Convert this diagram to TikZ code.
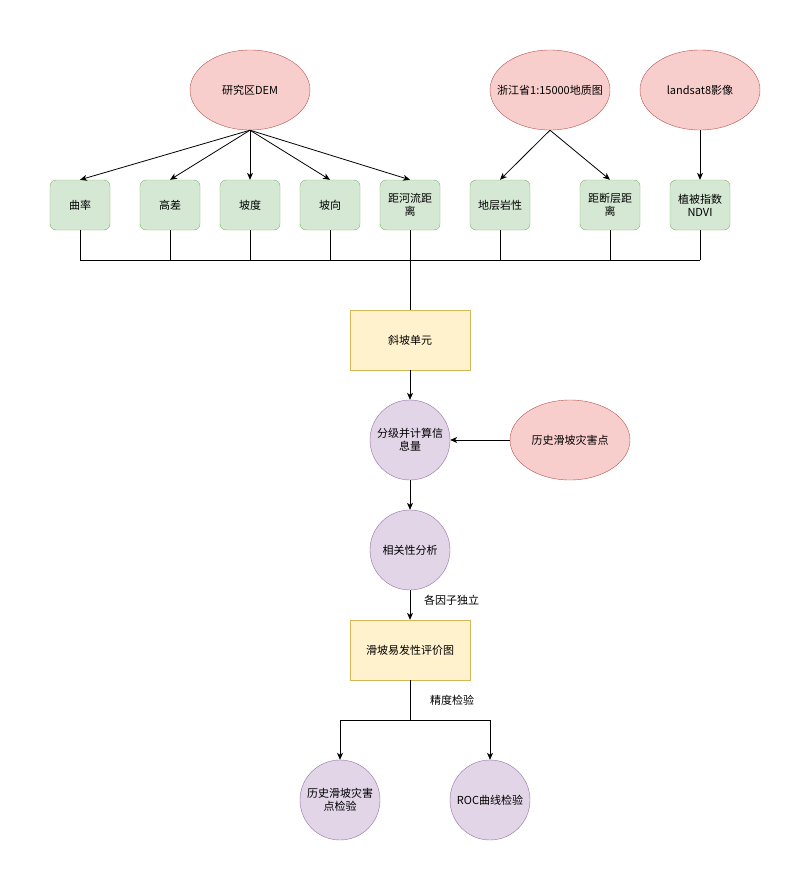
\documentclass[tikz,border=0pt]{standalone}
\usepackage{fontspec}
\setmainfont{Noto Sans CJK SC}
\usepackage{tikz}
\usetikzlibrary{positioning,shapes.geometric,arrows.meta}

\definecolor{redfill}{HTML}{F8CECC}
\definecolor{redline}{HTML}{B85450}
\definecolor{greenfill}{HTML}{D5E8D4}
\definecolor{greenline}{HTML}{82B366}
\definecolor{yellowfill}{HTML}{FFF2CC}
\definecolor{yellowline}{HTML}{D6B656}
\definecolor{purplefill}{HTML}{E1D5E7}
\definecolor{purpleline}{HTML}{9673A6}

\begin{document}
\begin{tikzpicture}[x=1pt, y=-1pt, font=\fontsize{11}{13}\selectfont]
        \tikzstyle{every node}=[align=center, inner sep=1pt]
        \tikzstyle{source}=[ellipse, draw=redline, fill=redfill, minimum width=120pt, minimum height=80pt]
        \tikzstyle{factor}=[draw=greenline, fill=greenfill, rounded corners=6pt, minimum width=60pt, minimum height=50pt]
        \tikzstyle{unit}=[draw=yellowline, fill=yellowfill, minimum width=120pt, minimum height=60pt]
        \tikzstyle{calc}=[circle, draw=purpleline, fill=purplefill, minimum size=80pt]
        \tikzstyle{arr}=[-{Stealth[length=7pt, width=6pt, inset=2pt]}, line width=0.8pt]
        
        \useasboundingbox (0,0) rectangle (811,891);
        
        % sources
        \node (dem)     [source] at (250,90) {研究区DEM};
        \node (geo)     [source, inner xsep=-11pt] at (550,90) {浙江省1:15000地质图};
        \node (landsat) [source] at (700,90) {landsat8影像};
        
        % factors
        \node (qulv)    [factor] at (80,205)  {曲率};
        \node (gaocha)  [factor] at (170,205) {高差};
        \node (podu)    [factor] at (250,205) {坡度};
        \node (poxiang) [factor] at (330,205) {坡向};
        \node (heliu)   [factor] at (410,205) {距河流距\\离};
        \node (yanxing) [factor] at (500,205) {地层岩性};
        \node (duanceng)[factor] at (610,205) {距断层距\\离};
        \node (ndvi)    [factor] at (700,205) {植被指数\\NDVI};
        
        \foreach \f in {qulv, gaocha, podu, poxiang, heliu}
            \draw[arr] (dem.south) -- (\f.north);
        \draw[arr] (geo.south) -- (yanxing.north);
        \draw[arr] (geo.south) -- (duanceng.north);
        \draw[arr] (landsat.south) -- (ndvi.north);
        
        % bus
        \coordinate (busL) at (80,260);
        \coordinate (busR) at (700,260);
        \draw[line width=0.8pt] (busL) -- (busR);
        \foreach \f in {qulv, gaocha, podu, poxiang, yanxing, duanceng, ndvi}
            \draw[line width=0.8pt] (\f.south) -- (\f.south |- busL);
        
        % main flow
        \node (xiepo)   [unit] at (410,340) {斜坡单元};
        \node (xinxi)   [calc] at (410,440) {分级并计算信\\息量};
        \node (lishi)   [source] at (570,440) {历史滑坡灾害点};
        \node (xiangguan) [calc] at (410,550) {相关性分析};
        \node (pingjia) [unit] at (410,650) {滑坡易发性评价图};
        \node (jianyan1) [calc] at (340,800) {历史滑坡灾害\\点检验};
        \node (jianyan2) [calc] at (490,800) {ROC曲线检验};
        
        \draw[line width=0.8pt] (heliu.south) -- (xiepo.north);
        \draw[arr] (xiepo) -- (xinxi);
        \draw[arr] (lishi) -- (xinxi);
        \draw[arr] (xinxi) -- (xiangguan);
        \draw[arr] (xiangguan) -- (pingjia);
        \node (dulilabel) [anchor=west] at (423,600) {各因子独立};
        
        \coordinate (fork) at (410,720);
        \draw[line width=0.8pt] (pingjia.south) -- (fork);
        \draw[arr] (fork) -| (jianyan1.north);
        \draw[arr] (fork) -| (jianyan2.north);
        \node (jingdulabel) [anchor=west] at (429,700) {精度检验};
        
    \end{tikzpicture}
\end{document}
